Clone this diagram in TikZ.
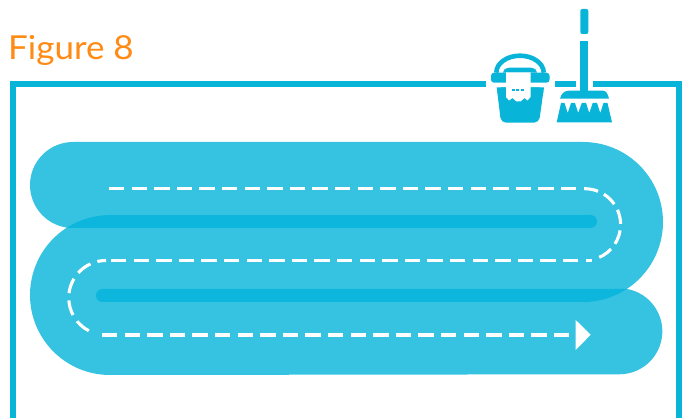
\documentclass[tikz,border=0pt]{standalone}
\usepackage{fontspec}
\setmainfont{Lato}
\definecolor{band}{HTML}{35C3E1}
\definecolor{deep}{HTML}{09B4D9}
\definecolor{tint}{HTML}{0CB6DC}
\definecolor{title}{HTML}{FF8A14}
\tikzset{
  frameline/.style={draw=deep,line width=6pt},
  iconfill/.style={fill=deep,draw=none},
  knock/.style={fill=white,draw=none},
  route/.style={draw=white,line width=3.1pt,dash pattern=on 15.3pt off 7.3pt}
}
\begin{document}
\begin{tikzpicture}[x=1pt,y=1pt]
\useasboundingbox (0,0) rectangle (688,418);
\node[anchor=base west,inner sep=0pt,text=title,font=\fontsize{33}{33}\selectfont,xscale=1.06,transform shape] (figtitle) at (8,358) {Figure 8};
% frame
\draw[frameline] (13,0) -- (13,334) -- (486,334);
\draw[frameline] (555,334) -- (576,334);
\draw[frameline] (593,334) -- (679,334) -- (679,0);
% band
\fill[band] (73,276) -- (583,276) arc[start angle=90,end angle=-56.8,radius=80]
  arc[start angle=80,end angle=-90,radius=43] -- (110,43)
  arc[start angle=270,end angle=123,radius=80]
  -- (68.5,190.2) arc[start angle=264,end angle=90,radius=43] -- cycle;
\fill[tint] (66.4,190) arc[start angle=123,end angle=90,radius=80] -- (590.5,203)
  arc[start angle=90,end angle=-90,radius=6.5] -- cycle;
\fill[tint] (102.5,129) arc[start angle=90,end angle=270,radius=6.5] -- (583,116)
  arc[start angle=270,end angle=303.2,radius=80] -- cycle;
% route
\draw[route] (109,229.3) -- (584.7,229.3);
\draw[route,dash pattern=on 14.5pt off 6.5pt,dash phase=0.8pt] (584.7,229.3) arc[start angle=90,end angle=-68,radius=35.9];
\draw[route,dash pattern=] (591.7,157.5) -- (585.6,157.5);
\draw[route] (578.3,157.5) -- (110.7,157.5);
\draw[route,dash phase=6.6pt] (106,157.5) arc[start angle=90,end angle=243,radius=37.25];
\draw[route] (102,83) -- (569,83);
\fill[white] (575.7,98) -- (590.7,83.3) -- (575.7,68) -- cycle;
% bucket: handle, inner arch, rim, body
\draw[deep,line width=4.6pt] (496.3,345.3) arc[start angle=180,end angle=0,x radius=23.7,y radius=17];
\fill[iconfill] (503,345.3) .. controls (504,349) and (506,350.3) .. (509,350.3) -- (531,350.3) .. controls (534,350.3) and (536,349) .. (537,345.3) -- cycle;
\fill[iconfill,rounded corners=3pt] (491,345.3) rectangle (549.5,335.3);
\fill[iconfill,rounded corners=5pt] (496.7,330.7) -- (544,330.7) -- (539,295.3) -- (501,295.3) -- cycle;
\fill[iconfill] (496.7,330.7) -- (544,330.7) -- (543.3,325) -- (497.5,325) -- cycle;
\fill[knock] (506,345.5) -- (530.5,345.5) -- (530.5,321) -- (527.5,317.5) -- (524.5,320) -- (520.5,316.5) -- (516.5,316.5) -- (512.5,320) -- (509,317.5) -- (506,321) -- cycle;
\fill[deep] (511.5,327) rectangle (514.5,329);
\fill[deep] (516.3,327) rectangle (519.3,329);
\fill[deep] (521,327) rectangle (524,329);
% broom
\fill[iconfill,rounded corners=2pt] (580.3,409) rectangle (588.3,384);
\fill[iconfill] (580.3,377) rectangle (588.3,320);
\fill[iconfill] (560,319.3) .. controls (561,324) and (564,327.3) .. (569,327.3) -- (603,327.3) .. controls (606,327.3) and (608,324) .. (609,319.3) -- cycle;
\fill[iconfill] (556.7,295.7) -- (561,315) -- (564.5,315) -- (567.7,305) -- (571,315) -- (575,315) -- (578.2,305) -- (581.8,315) -- (586,315) -- (589.3,305) -- (592.7,315) -- (597,315) -- (600.3,305) -- (603.5,315) -- (607.5,315) -- (612,295.7) -- cycle;
\end{tikzpicture}
\end{document}
